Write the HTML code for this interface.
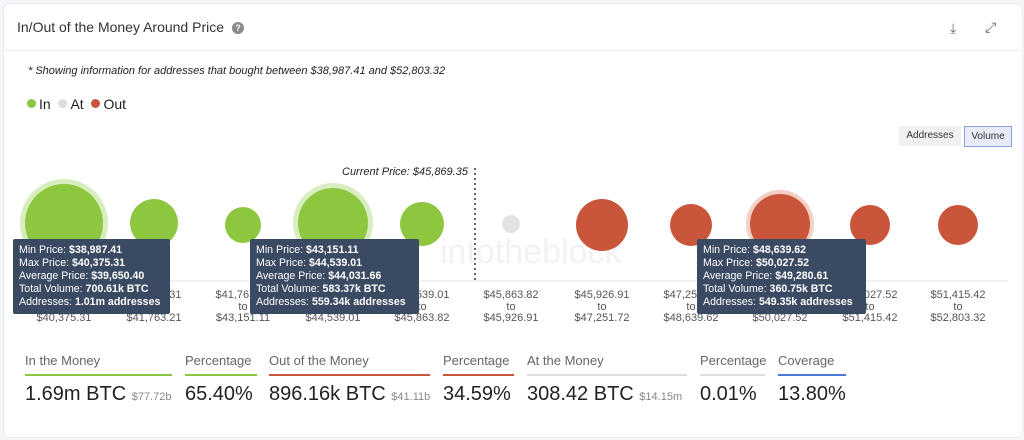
<!DOCTYPE html><html><head><style>
body{margin:0;width:1024px;height:440px;background:#f4f6f9;font-family:"Liberation Sans",sans-serif;position:relative;overflow:hidden}
.card{position:absolute;left:3px;top:3px;width:1018px;height:433px;background:#fff;border-radius:6px;border:1px solid #e8ebef}
.a{position:absolute;white-space:nowrap}
.lbl{position:absolute;font-size:11px;color:#555;text-align:center;width:90px;line-height:11.5px}
.tt{position:absolute;background:#3a4a63;color:#fff;font-size:10.6px;line-height:13px;padding:5px 6px;border-radius:2px;width:157px;box-sizing:border-box;white-space:nowrap;overflow:hidden}
.tt b{font-weight:bold}
.h{position:absolute;top:353px;font-size:13px;color:#666;border-bottom:2px solid;padding-bottom:6px}
.v{position:absolute;top:383px;font-size:20px;color:#222}
.v small{font-size:11px;color:#888}
.dot{display:inline-block;width:9px;height:9px;border-radius:50%;vertical-align:1px;margin-right:3px}
</style></head><body><div class="card"></div>
<div class="a" style="left:17px;top:19px;font-size:14px;color:#333">In/Out of the Money Around Price</div>
<div class="a" style="left:232px;top:22px;width:12px;height:12px;border-radius:50%;background:#8a8a8a;color:#fff;font-size:9px;text-align:center;line-height:12px;font-weight:bold">?</div>
<div class="a" style="left:950px;top:20px;font-size:14px;color:#666">⤓</div>
<div class="a" style="left:985px;top:19px;font-size:14px;color:#666">⤢</div>
<div class="a" style="left:4px;top:50px;width:1016px;height:1px;background:#eceef2"></div>
<div class="a" style="left:28px;top:65px;font-size:11px;font-style:italic;color:#222">* Showing information for addresses that bought between $38,987.41 and $52,803.32</div>
<div class="a" style="left:27px;top:96px;font-size:14px;color:#222"><span class="dot" style="background:#8dc63f"></span>In &nbsp;<span class="dot" style="background:#ddd"></span>At &nbsp;<span class="dot" style="background:#c9563a"></span>Out</div>
<div class="a" style="left:899px;top:126px;width:62px;height:20px;background:#f0f1f3;font-size:10px;text-align:center;line-height:20px;color:#333">Addresses</div>
<div class="a" style="left:964px;top:126px;width:46px;height:19px;background:#e6ecf8;border:1px solid #8aa2d8;font-size:10px;text-align:center;line-height:19px;color:#333">Volume</div>
<div class="a" style="left:342px;top:166px;font-size:11px;font-style:italic;color:#222">Current Price: $45,869.35</div>
<svg class="a" style="left:0;top:0" width="1024" height="440">
<text x="440" y="263" font-size="34" fill="#f1f2f5" font-family="Liberation Sans">intotheblock</text>
<line x1="20" y1="281" x2="1008" y2="281" stroke="#dfe4ee"/>
<line x1="475" y1="168" x2="475" y2="280" stroke="#333" stroke-dasharray="2,3" stroke-width="1.5"/>
<circle cx="64" cy="223" r="44" fill="#d9eec0"/><circle cx="64" cy="223" r="39" fill="#8dc63f"/>
<circle cx="154" cy="223" r="24" fill="#8dc63f"/>
<circle cx="243" cy="225" r="18" fill="#8dc63f"/>
<circle cx="333" cy="223" r="40" fill="#d9eec0"/><circle cx="333" cy="223" r="35" fill="#8dc63f"/>
<circle cx="422" cy="224" r="22" fill="#8dc63f"/>
<circle cx="511" cy="224" r="9" fill="#e3e3e3"/>
<circle cx="602" cy="225" r="26" fill="#c9563a"/>
<circle cx="691" cy="225" r="21" fill="#c9563a"/>
<circle cx="780" cy="224" r="34" fill="#f3d0c5"/><circle cx="780" cy="224" r="30" fill="#c9563a"/>
<circle cx="870" cy="225" r="20" fill="#c9563a"/>
<circle cx="958" cy="225" r="20" fill="#c9563a"/>
</svg>
<div class="lbl" style="left:19px;top:290px">$38,987.41<br>to<br>$40,375.31</div>
<div class="lbl" style="left:109px;top:290px">$40,375.31<br>to<br>$41,763.21</div>
<div class="lbl" style="left:198px;top:290px">$41,763.21<br>to<br>$43,151.11</div>
<div class="lbl" style="left:288px;top:290px">$43,151.11<br>to<br>$44,539.01</div>
<div class="lbl" style="left:377px;top:290px">$44,539.01<br>to<br>$45,863.82</div>
<div class="lbl" style="left:466px;top:290px">$45,863.82<br>to<br>$45,926.91</div>
<div class="lbl" style="left:557px;top:290px">$45,926.91<br>to<br>$47,251.72</div>
<div class="lbl" style="left:646px;top:290px">$47,251.72<br>to<br>$48,639.62</div>
<div class="lbl" style="left:735px;top:290px">$48,639.62<br>to<br>$50,027.52</div>
<div class="lbl" style="left:825px;top:290px">$50,027.52<br>to<br>$51,415.42</div>
<div class="lbl" style="left:913px;top:290px">$51,415.42<br>to<br>$52,803.32</div>
<div class="tt" style="left:13px;top:239px">Min Price: <b>$38,987.41</b><br>Max Price: <b>$40,375.31</b><br>Average Price: <b>$39,650.40</b><br>Total Volume: <b>700.61k BTC</b><br>Addresses: <b>1.01m addresses</b></div>
<div class="tt" style="left:250px;top:239px;width:169px">Min Price: <b>$43,151.11</b><br>Max Price: <b>$44,539.01</b><br>Average Price: <b>$44,031.66</b><br>Total Volume: <b>583.37k BTC</b><br>Addresses: <b>559.34k addresses</b></div>
<div class="tt" style="left:697px;top:239px;width:169px">Min Price: <b>$48,639.62</b><br>Max Price: <b>$50,027.52</b><br>Average Price: <b>$49,280.61</b><br>Total Volume: <b>360.75k BTC</b><br>Addresses: <b>549.35k addresses</b></div>
<div class="h" style="left:25px;width:147px;border-color:#8dc63f">In the Money</div>
<div class="h" style="left:185px;width:72px;border-color:#8dc63f">Percentage</div>
<div class="h" style="left:269px;width:161px;border-color:#c9563a">Out of the Money</div>
<div class="h" style="left:443px;width:71px;border-color:#c9563a">Percentage</div>
<div class="h" style="left:527px;width:160px;border-color:#ddd">At the Money</div>
<div class="h" style="left:700px;width:65px;border-color:#ddd">Percentage</div>
<div class="h" style="left:778px;width:68px;border-color:#4a7bd8">Coverage</div>
<div class="v" style="left:25px">1.69m BTC <small>$77.72b</small></div>
<div class="v" style="left:185px">65.40%</div>
<div class="v" style="left:269px">896.16k BTC <small>$41.11b</small></div>
<div class="v" style="left:443px">34.59%</div>
<div class="v" style="left:527px">308.42 BTC <small>$14.15m</small></div>
<div class="v" style="left:700px">0.01%</div>
<div class="v" style="left:778px">13.80%</div>
</body></html>
